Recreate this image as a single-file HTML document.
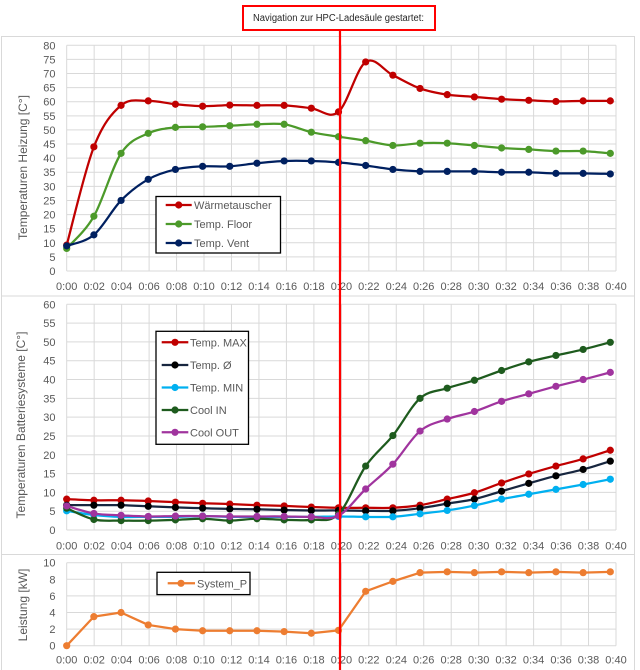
<!DOCTYPE html>
<html>
<head>
<meta charset="utf-8">
<style>
  html,body{margin:0;padding:0;background:#fff;}
  svg{display:block;}
  text{font-family:"Liberation Sans",Arial,sans-serif;}
  .t{font-size:11px;fill:#595959;}
  .yl{font-size:11px;fill:#595959;text-anchor:end;}
  .xl{font-size:11px;fill:#595959;text-anchor:middle;}
  .ttl{font-size:12px;fill:#595959;text-anchor:middle;}
</style>
</head>
<body>
<svg id="c" width="640" height="670" viewBox="0 0 640 670" xmlns="http://www.w3.org/2000/svg">
  <rect x="0" y="0" width="640" height="670" fill="#fff"/>
  <!-- panel frames -->
  <rect x="1.5" y="36.5" width="633" height="259.5" fill="none" stroke="#d9d9d9" stroke-width="1"/>
  <rect x="1.5" y="296" width="633" height="258.5" fill="none" stroke="#d9d9d9" stroke-width="1"/>
  <rect x="1.5" y="554.5" width="633" height="120" fill="none" stroke="#d9d9d9" stroke-width="1"/>

  <g id="grid"></g>
  <g id="dyn"></g>

  <!-- Y labels top -->
  <text class="yl" x="55.5" y="49.3">80</text>
  <text class="yl" x="55.5" y="63.4">75</text>
  <text class="yl" x="55.5" y="77.5">70</text>
  <text class="yl" x="55.5" y="91.6">65</text>
  <text class="yl" x="55.5" y="105.7">60</text>
  <text class="yl" x="55.5" y="119.8">55</text>
  <text class="yl" x="55.5" y="133.9">50</text>
  <text class="yl" x="55.5" y="148.0">45</text>
  <text class="yl" x="55.5" y="162.1">40</text>
  <text class="yl" x="55.5" y="176.2">35</text>
  <text class="yl" x="55.5" y="190.4">30</text>
  <text class="yl" x="55.5" y="204.5">25</text>
  <text class="yl" x="55.5" y="218.6">20</text>
  <text class="yl" x="55.5" y="232.7">15</text>
  <text class="yl" x="55.5" y="246.8">10</text>
  <text class="yl" x="55.5" y="260.9">5</text>
  <text class="yl" x="55.5" y="275.0">0</text>

  <!-- Y labels middle -->
  <text class="yl" x="55.5" y="308.3">60</text>
  <text class="yl" x="55.5" y="327.1">55</text>
  <text class="yl" x="55.5" y="345.9">50</text>
  <text class="yl" x="55.5" y="364.7">45</text>
  <text class="yl" x="55.5" y="383.5">40</text>
  <text class="yl" x="55.5" y="402.3">35</text>
  <text class="yl" x="55.5" y="421.1">30</text>
  <text class="yl" x="55.5" y="440.0">25</text>
  <text class="yl" x="55.5" y="458.8">20</text>
  <text class="yl" x="55.5" y="477.6">15</text>
  <text class="yl" x="55.5" y="496.4">10</text>
  <text class="yl" x="55.5" y="515.2">5</text>
  <text class="yl" x="55.5" y="534.0">0</text>

  <!-- Y labels bottom -->
  <text class="yl" x="55.5" y="566.7">10</text>
  <text class="yl" x="55.5" y="583.3">8</text>
  <text class="yl" x="55.5" y="599.9">6</text>
  <text class="yl" x="55.5" y="616.5">4</text>
  <text class="yl" x="55.5" y="633.1">2</text>
  <text class="yl" x="55.5" y="649.7">0</text>

  <!-- X labels top -->
  <g transform="translate(0,290)">
    <text class="xl" x="66.7" y="0">0:00</text>
    <text class="xl" x="94.2" y="0">0:02</text>
    <text class="xl" x="121.6" y="0">0:04</text>
    <text class="xl" x="149.1" y="0">0:06</text>
    <text class="xl" x="176.6" y="0">0:08</text>
    <text class="xl" x="204.0" y="0">0:10</text>
    <text class="xl" x="231.5" y="0">0:12</text>
    <text class="xl" x="259.0" y="0">0:14</text>
    <text class="xl" x="286.4" y="0">0:16</text>
    <text class="xl" x="313.9" y="0">0:18</text>
    <text class="xl" x="341.4" y="0">0:20</text>
    <text class="xl" x="368.8" y="0">0:22</text>
    <text class="xl" x="396.3" y="0">0:24</text>
    <text class="xl" x="423.7" y="0">0:26</text>
    <text class="xl" x="451.2" y="0">0:28</text>
    <text class="xl" x="478.7" y="0">0:30</text>
    <text class="xl" x="506.1" y="0">0:32</text>
    <text class="xl" x="533.6" y="0">0:34</text>
    <text class="xl" x="561.1" y="0">0:36</text>
    <text class="xl" x="588.5" y="0">0:38</text>
    <text class="xl" x="616.0" y="0">0:40</text>
  </g>
  <!-- X labels middle -->
  <g transform="translate(0,549.3)">
    <text class="xl" x="66.7" y="0">0:00</text>
    <text class="xl" x="94.2" y="0">0:02</text>
    <text class="xl" x="121.6" y="0">0:04</text>
    <text class="xl" x="149.1" y="0">0:06</text>
    <text class="xl" x="176.6" y="0">0:08</text>
    <text class="xl" x="204.0" y="0">0:10</text>
    <text class="xl" x="231.5" y="0">0:12</text>
    <text class="xl" x="259.0" y="0">0:14</text>
    <text class="xl" x="286.4" y="0">0:16</text>
    <text class="xl" x="313.9" y="0">0:18</text>
    <text class="xl" x="341.4" y="0">0:20</text>
    <text class="xl" x="368.8" y="0">0:22</text>
    <text class="xl" x="396.3" y="0">0:24</text>
    <text class="xl" x="423.7" y="0">0:26</text>
    <text class="xl" x="451.2" y="0">0:28</text>
    <text class="xl" x="478.7" y="0">0:30</text>
    <text class="xl" x="506.1" y="0">0:32</text>
    <text class="xl" x="533.6" y="0">0:34</text>
    <text class="xl" x="561.1" y="0">0:36</text>
    <text class="xl" x="588.5" y="0">0:38</text>
    <text class="xl" x="616.0" y="0">0:40</text>
  </g>
  <!-- X labels bottom -->
  <g transform="translate(0,663.3)">
    <text class="xl" x="66.7" y="0">0:00</text>
    <text class="xl" x="94.2" y="0">0:02</text>
    <text class="xl" x="121.6" y="0">0:04</text>
    <text class="xl" x="149.1" y="0">0:06</text>
    <text class="xl" x="176.6" y="0">0:08</text>
    <text class="xl" x="204.0" y="0">0:10</text>
    <text class="xl" x="231.5" y="0">0:12</text>
    <text class="xl" x="259.0" y="0">0:14</text>
    <text class="xl" x="286.4" y="0">0:16</text>
    <text class="xl" x="313.9" y="0">0:18</text>
    <text class="xl" x="341.4" y="0">0:20</text>
    <text class="xl" x="368.8" y="0">0:22</text>
    <text class="xl" x="396.3" y="0">0:24</text>
    <text class="xl" x="423.7" y="0">0:26</text>
    <text class="xl" x="451.2" y="0">0:28</text>
    <text class="xl" x="478.7" y="0">0:30</text>
    <text class="xl" x="506.1" y="0">0:32</text>
    <text class="xl" x="533.6" y="0">0:34</text>
    <text class="xl" x="561.1" y="0">0:36</text>
    <text class="xl" x="588.5" y="0">0:38</text>
    <text class="xl" x="616.0" y="0">0:40</text>
  </g>

  <!-- Axis titles -->
  <text class="ttl" transform="translate(27,167.5) rotate(-90)" x="0" y="0">Temperaturen Heizung [C°]</text>
  <text class="ttl" transform="translate(25,425) rotate(-90)" x="0" y="0">Temperaturen Batteriesysteme [C°]</text>
  <text class="ttl" transform="translate(27,605) rotate(-90)" x="0" y="0">Leistung [kW]</text>

  <!-- Legend top -->
  <rect x="156" y="196.5" width="124.5" height="56.5" fill="#fff" stroke="#000" stroke-width="1.3"/>
  <line x1="165.7" x2="191.7" y1="205" y2="205" stroke="#C00000" stroke-width="2.25"/>
  <circle cx="178.7" cy="205" r="3.6" fill="#C00000"/>
  <text class="t" x="194" y="209">Wärmetauscher</text>
  <line x1="165.7" x2="191.7" y1="224" y2="224" stroke="#4C9A2A" stroke-width="2.25"/>
  <circle cx="178.7" cy="224" r="3.6" fill="#4C9A2A"/>
  <text class="t" x="194" y="228">Temp. Floor</text>
  <line x1="165.7" x2="191.7" y1="243" y2="243" stroke="#002060" stroke-width="2.25"/>
  <circle cx="178.7" cy="243" r="3.6" fill="#002060"/>
  <text class="t" x="194" y="247">Temp. Vent</text>

  <!-- Legend middle -->
  <rect x="156" y="331.3" width="92.5" height="113" fill="#fff" stroke="#000" stroke-width="1.3"/>
  <line x1="161.7" x2="188.3" y1="342.3" y2="342.3" stroke="#C00000" stroke-width="2.25"/>
  <circle cx="175" cy="342.3" r="3.6" fill="#C00000"/>
  <text class="t" x="190" y="346.3">Temp. MAX</text>
  <line x1="161.7" x2="188.3" y1="365" y2="365" stroke="#17263F" stroke-width="2.25"/>
  <circle cx="175" cy="365" r="3.6" fill="#000"/>
  <text class="t" x="190" y="369">Temp. Ø</text>
  <line x1="161.7" x2="188.3" y1="387.5" y2="387.5" stroke="#00B0F0" stroke-width="2.25"/>
  <circle cx="175" cy="387.5" r="3.6" fill="#00B0F0"/>
  <text class="t" x="190" y="391.5">Temp. MIN</text>
  <line x1="161.7" x2="188.3" y1="410" y2="410" stroke="#1E5B1E" stroke-width="2.25"/>
  <circle cx="175" cy="410" r="3.6" fill="#1E5B1E"/>
  <text class="t" x="190" y="414">Cool IN</text>
  <line x1="161.7" x2="188.3" y1="432.3" y2="432.3" stroke="#A0349E" stroke-width="2.25"/>
  <circle cx="175" cy="432.3" r="3.6" fill="#A0349E"/>
  <text class="t" x="190" y="436.3">Cool OUT</text>

  <!-- Legend bottom -->
  <rect x="157" y="572.3" width="93" height="22.3" fill="#fff" stroke="#000" stroke-width="1.3"/>
  <line x1="167.7" x2="195" y1="583.3" y2="583.3" stroke="#ED7D31" stroke-width="2.25"/>
  <circle cx="181" cy="583.3" r="3.6" fill="#ED7D31"/>
  <text class="t" x="197" y="587.3">System_P</text>

  <!-- Red marker line -->
  <line x1="340" x2="340" y1="30" y2="670" stroke="#FF0000" stroke-width="2.2"/>
  <!-- annotation -->
  <rect x="243" y="6" width="192" height="24" fill="#fff" stroke="#FF0000" stroke-width="2"/>
  <text x="253" y="20.8" font-size="10" fill="#262626" textLength="171" lengthAdjust="spacingAndGlyphs">Navigation zur HPC-Ladesäule gestartet:</text>
</svg>
<script>
(function(){
  var NS="http://www.w3.org/2000/svg";
  var grid=document.getElementById('grid');
  var dyn=document.getElementById('dyn');
  function el(p,t,a){var e=document.createElementNS(NS,t);for(var k in a)e.setAttribute(k,a[k]);p.appendChild(e);return e;}
  function gx(k){return 66.7+k*27.465;}
  function dx(i){return 66.7+i*27.18;}
  function mkGrid(yTop,yBot,ys){
    ys.forEach(function(y){el(grid,'line',{x1:66.7,x2:616,y1:y,y2:y,stroke:'#d9d9d9','stroke-width':1});});
    for(var k=0;k<=20;k++){el(grid,'line',{x1:gx(k),x2:gx(k),y1:yTop,y2:yBot,stroke:'#d9d9d9','stroke-width':1});}
  }
  var fTop=function(v){return 271-v*2.8215;};
  var fMid=function(v){return 530-v*3.7617;};
  var fBot=function(v){return 645.7-v*8.3;};
  var ys=[];
  for(var v=0;v<=80;v+=5)ys.push(fTop(v)); mkGrid(45.3,271,ys);
  ys=[]; for(v=0;v<=60;v+=5)ys.push(fMid(v)); mkGrid(304.3,530,ys);
  ys=[]; for(v=0;v<=10;v+=2)ys.push(fBot(v)); mkGrid(562.7,645.7,ys);

  function pathSmooth(pts){
    var d='M'+pts[0][0].toFixed(2)+','+pts[0][1].toFixed(2);
    var t=1/6;
    for(var i=0;i<pts.length-1;i++){
      var p0=pts[i-1]||pts[i],p1=pts[i],p2=pts[i+1],p3=pts[i+2]||pts[i+1];
      var c1=[p1[0]+(p2[0]-p0[0])*t,p1[1]+(p2[1]-p0[1])*t];
      var c2=[p2[0]-(p3[0]-p1[0])*t,p2[1]-(p3[1]-p1[1])*t];
      d+=' C'+c1[0].toFixed(2)+','+c1[1].toFixed(2)+' '+c2[0].toFixed(2)+','+c2[1].toFixed(2)+' '+p2[0].toFixed(2)+','+p2[1].toFixed(2);
    }
    return d;
  }
  function pathLin(pts){
    return 'M'+pts.map(function(p){return p[0].toFixed(2)+','+p[1].toFixed(2);}).join(' L');
  }
  function series(vals,f,lc,mc,smooth){
    var pts=vals.map(function(v,i){return [dx(i),f(v)];});
    el(dyn,'path',{d:smooth?pathSmooth(pts):pathLin(pts),fill:'none',stroke:lc,'stroke-width':2.25,'stroke-linejoin':'round','stroke-linecap':'round'});
    pts.forEach(function(p){el(dyn,'circle',{cx:p[0],cy:p[1],r:3.6,fill:mc});});
  }
  // top
  series([9.2,44,58.7,60.3,59.1,58.4,58.8,58.7,58.7,57.7,56.4,74.1,69.4,64.7,62.5,61.7,60.9,60.5,60.1,60.3,60.3],fTop,'#C00000','#C00000',true);
  series([8.0,19.4,41.7,48.8,50.9,51.1,51.5,52.0,52.0,49.2,47.6,46.2,44.5,45.3,45.3,44.5,43.6,43.1,42.5,42.5,41.7],fTop,'#4C9A2A','#4C9A2A',true);
  series([8.9,12.8,25.0,32.5,36.0,37.1,37.1,38.2,39.0,39.0,38.5,37.4,36.0,35.3,35.3,35.3,35.0,35.0,34.6,34.6,34.4],fTop,'#002060','#002060',true);
  // middle
  series([8.2,7.9,7.9,7.7,7.4,7.1,6.9,6.6,6.4,6.1,5.9,5.9,5.9,6.6,8.2,9.9,12.5,14.9,17.0,18.9,21.2],fMid,'#C00000','#C00000',true);
  series([6.6,6.6,6.6,6.3,6.0,5.8,5.6,5.5,5.3,5.2,5.2,5.1,5.1,5.8,7.0,8.2,10.3,12.4,14.4,16.1,18.3],fMid,'#17263F','#000000',true);
  series([5.1,4.0,3.5,3.5,3.5,3.7,3.5,3.5,3.5,3.5,3.6,3.5,3.5,4.3,5.2,6.5,8.2,9.5,10.8,12.1,13.5],fMid,'#00B0F0','#00B0F0',true);
  series([5.8,2.8,2.5,2.5,2.7,3.0,2.5,3.0,2.7,2.7,4.2,17.0,25.1,35.0,37.7,39.8,42.4,44.7,46.4,48.0,49.9],fMid,'#1E5B1E','#1E5B1E',true);
  series([6.4,4.4,3.9,3.6,3.7,3.7,3.6,3.6,3.6,3.5,3.8,10.9,17.5,26.3,29.5,31.5,34.2,36.2,38.2,40.0,41.9],fMid,'#A0349E','#A0349E',true);
  // bottom
  series([0,3.5,4.0,2.5,2.0,1.8,1.8,1.8,1.7,1.5,1.85,6.55,7.75,8.8,8.9,8.8,8.9,8.8,8.9,8.8,8.9],fBot,'#ED7D31','#ED7D31',false);
})();
</script>
</body>
</html>
